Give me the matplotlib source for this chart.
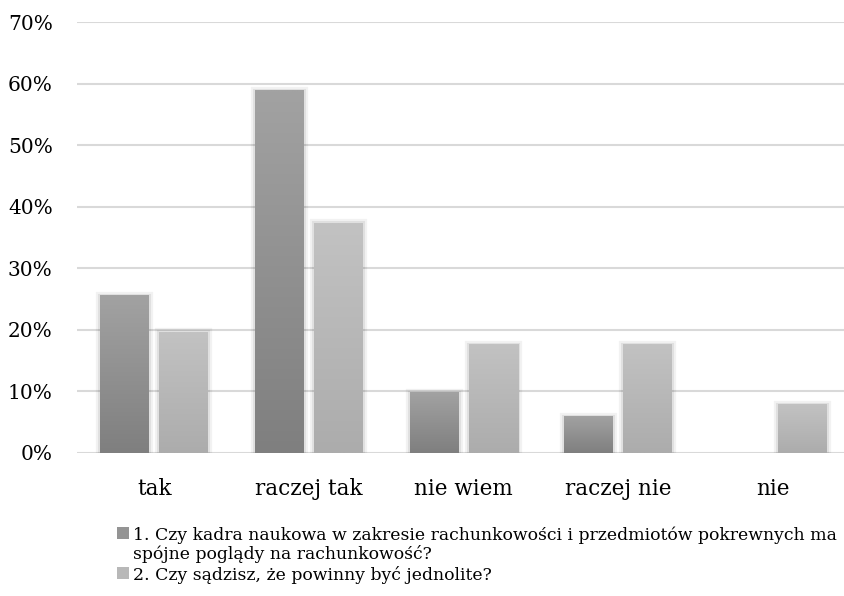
import matplotlib
matplotlib.use('Agg')
import matplotlib.pyplot as plt
import matplotlib.patheffects as pe
from matplotlib.patches import Rectangle
import numpy as np

# dane ankiety (odsetek odpowiedzi)
kategorie = ['tak', 'raczej tak', 'nie wiem', 'raczej nie', 'nie']
pytanie1 = [25.5, 58.8, 9.8, 5.9, 0.0]
pytanie2 = [19.6, 37.3, 17.6, 17.6, 7.8]
etykiety = [['1. Czy kadra naukowa w zakresie rachunkowości i przedmiotów pokrewnych ma',
             'spójne poglądy na rachunkowość?'],
            ['2. Czy sądzisz, że powinny być jednolite?']]
yticks = [0, 10, 20, 30, 40, 50, 60, 70]

plt.rcParams['font.family'] = ['DejaVu Serif']

fig = plt.figure(figsize=(8.44, 5.96), dpi=100)
ax = fig.add_axes([77 / 844, (596 - 453) / 596, 773 / 844, 431 / 596])

x = np.arange(len(kategorie))
szer = 49 / 154.6
odst = 59 / 154.6

# gradient pionowy dla kazdego slupka (jasniej u gory) + lekki cien
def slupek(xc, h, gora, dol):
    if h <= 0:
        return
    x0 = xc - szer / 2
    cien = Rectangle((x0, 0), szer, h, facecolor='none', edgecolor=(0, 0, 0, 0.01))
    cien.set_path_effects([pe.Stroke(linewidth=6, foreground='black', alpha=0.05),
                           pe.Stroke(linewidth=3, foreground='black', alpha=0.07)])
    ax.add_patch(cien)
    g = np.linspace(0, 1, 100).reshape(-1, 1)
    c0 = np.array(matplotlib.colors.to_rgb(dol))
    c1 = np.array(matplotlib.colors.to_rgb(gora))
    img = c0 + (c1 - c0) * g[:, :, None]
    ax.imshow(img, extent=[x0, x0 + szer, 0, h], origin='lower', aspect='auto', zorder=3,
              interpolation='bilinear')

for i in range(len(kategorie)):
    slupek(x[i] - odst / 2, pytanie1[i], '#a2a2a2', '#7f7f7f')
    slupek(x[i] + odst / 2, pytanie2[i], '#c2c2c2', '#acacac')

ax.set_xlim(-0.5, len(kategorie) - 0.5)
ax.set_ylim(0, 70)
ax.set_yticks(yticks)
ax.set_yticklabels([f'{t}%' for t in yticks])
ax.set_xticks(x)
ax.set_xticklabels(kategorie)
ax.grid(axis='y', color='#d9d9d9', linewidth=1.5, zorder=0)
ax.set_axisbelow(True)
for s in ax.spines.values():
    s.set_visible(False)
ax.tick_params(axis='both', length=0, colors='black')
ax.tick_params(axis='y', pad=17.5, labelsize=14.5)
ax.tick_params(axis='x', pad=18, labelsize=15.5)

# legenda pod wykresem, kazda linia osobno
fs = 12.4
for (ty, kol, linie) in [(540, '#949494', etykiety[0]), (580, '#b8b8b8', etykiety[1])]:
    fig.patches.append(Rectangle((117 / 844, 1 - (ty - 1) / 596), 12 / 844, 12 / 596,
                                 transform=fig.transFigure, facecolor=kol, edgecolor='none'))
    for j, linia in enumerate(linie):
        fig.text(133 / 844, 1 - (ty + 19 * j) / 596, linia, fontsize=fs,
                 va='baseline', ha='left')

fig.savefig('out.png', dpi=100)
